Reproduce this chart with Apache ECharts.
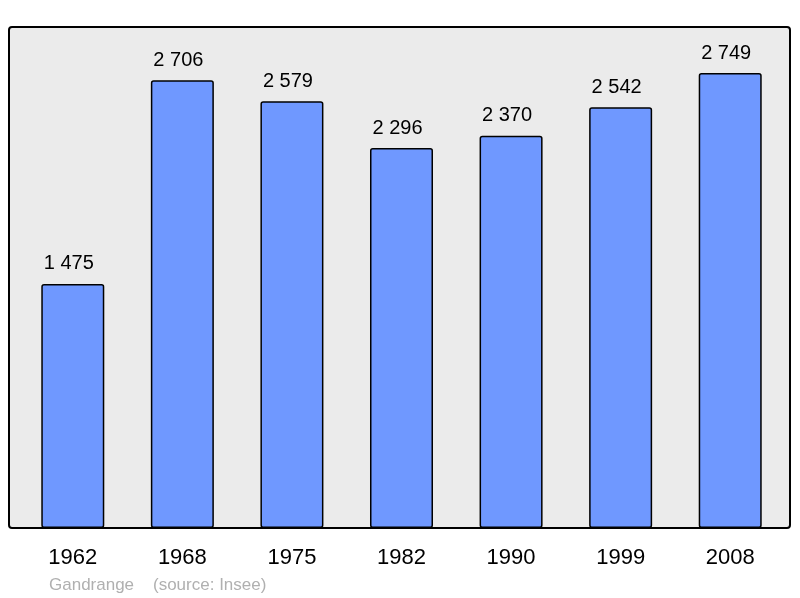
<!DOCTYPE html>
<html><head><meta charset="utf-8">
<script src="https://cdn.jsdelivr.net/npm/echarts@6/dist/echarts.min.js"></script>
<style>html,body{margin:0;padding:0;background:#fff}#c{width:800px;height:598px}</style>
</head><body><div id="c"></div>
<script>
const categories = ['1962','1968','1975','1982','1990','1999','2008'];
const population = [1475, 2706, 2579, 2296, 2370, 2542, 2749];
const commune = 'Gandrange';
const source = '(source: Insee)';

function fmt(v){ return String(v).replace(/\B(?=(\d{3})+(?!\d))/g, ' '); }

const chart = echarts.init(document.getElementById('c'), null, {renderer:'canvas'});
chart.setOption({
  animation:false,
  backgroundColor:'#fff',
  graphic:[
    {type:'rect', z:-10, shape:{x:9, y:27, width:781, height:501, r:3},
     style:{fill:'#ebebeb', stroke:'#000', lineWidth:2}},
    {type:'text', left:49, top:577, style:{text:commune, fill:'#b0b0b0', font:'17px "Liberation Sans", Arial, sans-serif'}},
    {type:'text', left:153, top:577, style:{text:source, fill:'#b0b0b0', font:'17px "Liberation Sans", Arial, sans-serif'}}
  ],
  grid:{left:18, right:15, top:31.5, bottom:70, containLabel:false},
  xAxis:{type:'category', data:categories,
    axisLine:{show:false}, axisTick:{show:false},
    axisLabel:{color:'#000', fontSize:22, fontFamily:'"Liberation Sans", Arial, sans-serif', margin:19}},
  yAxis:{type:'value', min:0, max:3000, show:false, splitLine:{show:false}},
  series:[{type:'bar', data:population, barWidth:'57.5%',
    itemStyle:{color:'#6f98ff', borderColor:'#000', borderWidth:1.5, borderRadius:2},
    label:{show:true, position:'top', distance:10, offset:[-4,0], color:'#000', fontSize:20,
      fontFamily:'"Liberation Sans", Arial, sans-serif', formatter:p=>fmt(p.value)}}]
});
</script></body></html>
